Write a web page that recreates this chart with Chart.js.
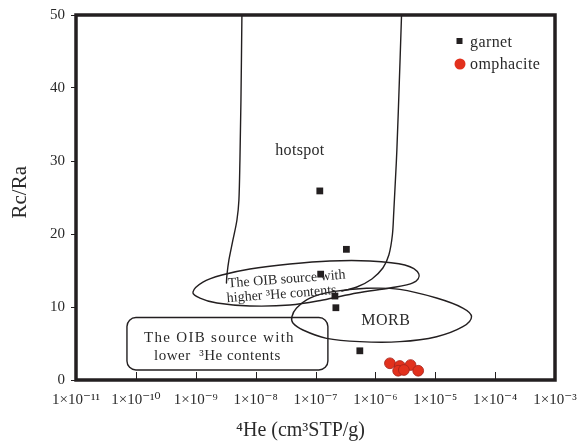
<!DOCTYPE html>
<html><head><meta charset="utf-8">
<script src="https://cdn.jsdelivr.net/npm/chart.js@4/dist/chart.umd.min.js"></script>
<style>html,body{margin:0;padding:0;background:#fff}</style>
</head><body>
<canvas id="c" width="584" height="441" style="width:584px;height:441px;display:block"></canvas>
<script>
// ---- data ----
const xTickExponents = [-11, -10, -9, -8, -7, -6, -5, -4, -3];
const yTickValues = [0, 10, 20, 30, 40, 50];

const garnetHe   = [1.18e-7, 3.28e-7, 1.22e-7, 2.11e-7, 2.19e-7, 5.5e-7];
const garnetRcRa = [25.9, 17.9, 14.5, 11.5, 9.9, 4.0];

const omphaciteHe   = [1.75e-6, 2.56e-6, 3.87e-6, 2.40e-6, 2.99e-6, 5.19e-6];
const omphaciteRcRa = [2.29, 1.92, 2.05, 1.27, 1.37, 1.27];

// field outlines: [log10(4He), Rc/Ra]
const hotspotLeft = [[-8.229, 50], [-8.245, 38.36], [-8.262, 30.14], [-8.279, 24.66], [-8.312, 21.92],
  [-8.379, 19.18], [-8.446, 16.44], [-8.479, 14.38], [-8.487, 13.29]];
const hotspotRight = [[-5.563, 50], [-5.599, 41.10], [-5.641, 31.51], [-5.691, 23.29], [-5.716, 19.86],
  [-5.775, 17.12], [-5.875, 15.34], [-6.058, 13.84], [-6.309, 12.74], [-6.559, 12.19]];
const oibHigherOutline = [[-9.047, 12.05], [-8.880, 13.42], [-8.563, 14.38], [-8.095, 15.21], [-7.427, 15.89],
  [-6.760, 16.30], [-6.092, 16.30], [-5.508, 15.75], [-5.274, 14.52], [-5.374, 13.29], [-5.758, 12.60],
  [-6.309, 11.92], [-6.876, 10.96], [-7.427, 10.27], [-8.095, 10.14], [-8.646, 10.55], [-8.930, 11.23]];
const morbOutline = [[-7.394, 8.67], [-7.316, 9.86], [-7.093, 11.23], [-6.710, 12.10], [-6.147, 12.56],
  [-5.591, 12.42], [-4.978, 11.23], [-4.539, 9.86], [-4.394, 8.67], [-4.539, 7.30], [-4.978, 5.93],
  [-5.591, 5.25], [-6.259, 5.25], [-6.815, 5.71], [-7.210, 6.85], [-7.377, 7.81]];
const oibLowerBox = [-10.149, -6.793, 1.37, 8.56]; // xMinExp, xMaxExp, yMin, yMax

const regionLabels = [
  { text: 'hotspot', at: [-7.260, 30.82], size: 16, spacing: 0.3, rot: 0 },
  { text: 'MORB', at: [-5.825, 7.53], size: 16, spacing: 0.5, rot: 0 },
  { text: 'The OIB source with', at: [-8.604, 5.21], size: 15, spacing: 1.3, rot: 0 },
  { text: 'lower  \u00B3He contents', at: [-8.638, 2.74], size: 15, spacing: 0.5, rot: 0 },
  { text: 'The OIB source with', at: [-7.477, 13.29], size: 14, spacing: 0, rot: -4.3 },
  { text: 'higher \u00B3He contents', at: [-7.561, 11.23], size: 14, spacing: 0, rot: -4.3 }
];

const INK = '#231f20';
const SERIF = '"Liberation Serif", "DejaVu Serif", "Times New Roman", serif';
const SUP = { '-': '\u207B', '0': '\u2070', '1': '\u00B9', '2': '\u00B2', '3': '\u00B3', '4': '\u2074',
  '5': '\u2075', '6': '\u2076', '7': '\u2077', '8': '\u2078', '9': '\u2079' };
const sup = s => String(s).split('').map(c => SUP[c] || c).join('');

function drawSmooth(ctx, pts, closed) {
  const n = pts.length;
  const get = i => closed ? pts[(i + n) % n] : pts[Math.max(0, Math.min(n - 1, i))];
  ctx.beginPath();
  ctx.moveTo(pts[0][0], pts[0][1]);
  const segs = closed ? n : n - 1;
  for (let i = 0; i < segs; i++) {
    const p0 = get(i - 1), p1 = get(i), p2 = get(i + 1), p3 = get(i + 2);
    ctx.bezierCurveTo(
      p1[0] + (p2[0] - p0[0]) / 6, p1[1] + (p2[1] - p0[1]) / 6,
      p2[0] - (p3[0] - p1[0]) / 6, p2[1] - (p3[1] - p1[1]) / 6,
      p2[0], p2[1]);
  }
  if (closed) ctx.closePath();
  ctx.stroke();
}

const fieldsPlugin = {
  id: 'fields',
  beforeDatasetsDraw(chart) {
    const { ctx, chartArea: a, scales: { x, y } } = chart;
    const P = p => [x.getPixelForValue(Math.pow(10, p[0])), y.getPixelForValue(p[1])];
    ctx.save();
    ctx.beginPath(); ctx.rect(a.left, a.top, a.right - a.left, a.bottom - a.top); ctx.clip();
    ctx.strokeStyle = INK; ctx.lineWidth = 1.4; ctx.lineJoin = 'round'; ctx.lineCap = 'round';
    drawSmooth(ctx, hotspotLeft.map(P), false);
    drawSmooth(ctx, hotspotRight.map(P), false);
    drawSmooth(ctx, oibHigherOutline.map(P), true);
    drawSmooth(ctx, morbOutline.map(P), true);
    const bx0 = x.getPixelForValue(Math.pow(10, oibLowerBox[0]));
    const bx1 = x.getPixelForValue(Math.pow(10, oibLowerBox[1]));
    const by0 = y.getPixelForValue(oibLowerBox[2]);
    const by1 = y.getPixelForValue(oibLowerBox[3]);
    ctx.beginPath(); ctx.roundRect(bx0, by1, bx1 - bx0, by0 - by1, 9); ctx.stroke();

    ctx.fillStyle = '#2a2a2a';
    ctx.textAlign = 'center'; ctx.textBaseline = 'alphabetic';
    regionLabels.forEach(l => {
      const [px, py] = P(l.at);
      ctx.save();
      ctx.translate(px, py);
      ctx.rotate(l.rot * Math.PI / 180);
      ctx.font = l.size + 'px ' + SERIF;
      ctx.letterSpacing = l.spacing + 'px';
      ctx.fillText(l.text, 0, 0);
      ctx.restore();
    });
    ctx.restore();
  },
  afterDraw(chart) {
    const { ctx, chartArea: a, scales: { x } } = chart;
    ctx.save();
    ctx.strokeStyle = INK;
    ctx.lineWidth = 1;
    xTickExponents.slice(1, -1).forEach(e => {
      const px = Math.round(x.getPixelForValue(Math.pow(10, e))) + 0.5;
      ctx.beginPath(); ctx.moveTo(px, a.bottom); ctx.lineTo(px, a.bottom - 8); ctx.stroke();
    });
    ctx.lineWidth = 3.5;
    ctx.strokeRect(a.left, a.top, a.right - a.left, a.bottom - a.top);
    // legend
    ctx.fillStyle = INK;
    ctx.fillRect(a.right - 98.5, a.top + 23, 6, 6);
    ctx.beginPath(); ctx.arc(a.right - 95, a.top + 49, 5.5, 0, Math.PI * 2);
    ctx.fillStyle = '#e2311d'; ctx.fill();
    ctx.fillStyle = '#2a2a2a';
    ctx.font = '16px ' + SERIF; ctx.textAlign = 'left'; ctx.textBaseline = 'alphabetic';
    ctx.letterSpacing = '0.4px';
    ctx.fillText('garnet', a.right - 85, a.top + 32);
    ctx.fillText('omphacite', a.right - 85, a.top + 54);
    ctx.restore();
  }
};

new Chart(document.getElementById('c'), {
  type: 'scatter',
  data: {
    datasets: [
      {
        label: 'garnet',
        data: garnetHe.map((v, i) => ({ x: v, y: garnetRcRa[i] })),
        pointStyle: 'rect', pointRadius: 4.8, backgroundColor: INK, borderColor: INK, borderWidth: 0
      },
      {
        label: 'omphacite',
        data: omphaciteHe.map((v, i) => ({ x: v, y: omphaciteRcRa[i] })),
        pointStyle: 'circle', pointRadius: 5.4, backgroundColor: '#e2311d', borderColor: '#a3221a', borderWidth: 0.8
      }
    ]
  },
  options: {
    responsive: false,
    animation: false,
    devicePixelRatio: 1,
    layout: { padding: { top: 15, right: 29, left: 0, bottom: 0 } },
    plugins: { legend: { display: false }, tooltip: { enabled: false } },
    scales: {
      x: {
        type: 'logarithmic',
        min: 1e-11, max: 1e-3,
        afterBuildTicks: s => { s.ticks = xTickExponents.map(e => ({ value: Math.pow(10, e) })); },
        afterFit: s => { s.height = 61; s.paddingLeft = 0; s.paddingRight = 0; },
        grid: { display: false, drawTicks: false },
        border: { display: false },
        ticks: {
          autoSkip: false, maxRotation: 0, minRotation: 0, padding: 11,
          color: '#2a2a2a', font: { family: SERIF, size: 15 },
          callback: v => '1\u00D710' + sup(Math.round(Math.log10(v)))
        },
        title: {
          display: true, text: '\u2074He (cm\u00B3STP/g)      ',
          color: '#2a2a2a', font: { family: SERIF, size: 20, lineHeight: 1.05 },
          padding: { top: 0, bottom: 0 }
        }
      },
      y: {
        min: 0, max: 50,
        afterBuildTicks: s => { s.ticks = yTickValues.map(v => ({ value: v })); },
        afterFit: s => { s.width = 76; s.paddingTop = 0; s.paddingBottom = 0; },
        grid: { drawOnChartArea: false, drawTicks: true, tickLength: 5, color: INK, lineWidth: 1 },
        border: { display: false },
        ticks: { padding: 6, color: '#2a2a2a', font: { family: SERIF, size: 15 } },
        title: {
          display: true, text: '  Rc/Ra',
          color: '#2a2a2a', font: { family: SERIF, size: 21, lineHeight: 1.2 },
          padding: { top: 8, bottom: 0 }
        }
      }
    }
  },
  plugins: [fieldsPlugin]
});
</script>
</body></html>
